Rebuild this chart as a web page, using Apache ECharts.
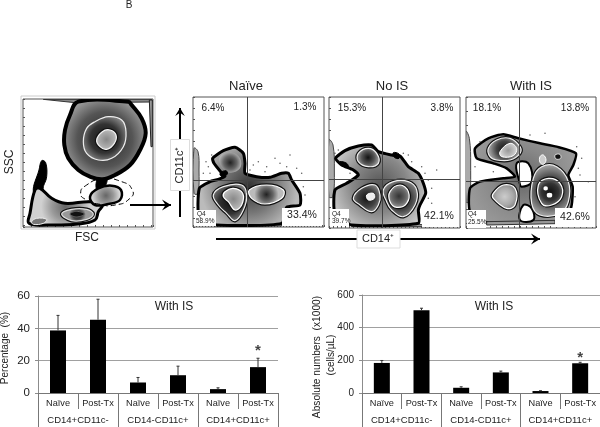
<!DOCTYPE html>
<html>
<head>
<meta charset="utf-8">
<style>
  html, body { margin: 0; padding: 0; background: #fff; }
  #main { width: 600px; height: 427px; filter: blur(0.35px); }
</style>
<script src="https://cdn.jsdelivr.net/npm/echarts@6/dist/echarts.min.js"></script>
</head>
<body>
<div id="main"></div>
<script>
// bar charts
var categories = ['Naïve', 'Post-Tx', 'Naïve', 'Post-Tx', 'Naïve', 'Post-Tx'];
var groups = ['CD14+CD11c-', 'CD14-CD11c+', 'CD14+CD11c+'];
var percentValues = [38.7, 45.3, 6.5, 11, 2.4, 16];
var percentErrTop = [48, 58, 9.6, 16.6, 3.2, 21.5];
var absoluteValues = [184, 507, 32, 126, 12, 182];
var absoluteErrTop = [199, 519, 38, 134, 14, 188];
var starAt = 5;

// flow plot contours (panel channel units)
var sscBig = [[190,35],[165,75],[150,120],[148,165],[160,205],[190,240],[225,260],[262,268],[300,255],[345,225],[375,180],[392,130],[380,85],[350,45],[340,35]];
var sscBigMid = [[240,95],[280,80],[320,90],[333,125],[325,170],[290,205],[250,210],[215,190],[205,155],[215,115]];
var sscBigCore = [[262,125],[285,120],[303,135],[298,160],[275,178],[255,170],[245,150]];
var sscMono = [[225,320],[250,295],[290,287],[318,300],[315,330],[280,342],[240,345]];
var sscNeck = [[250,262],[275,262],[268,292],[245,298]];
var sscGate = [[197,310],[215,285],[260,268],[320,275],[352,300],[345,325],[300,345],[250,342],[215,330]];
var sscLow = [[42,400],[45,370],[60,300],[75,295],[110,325],[150,340],[225,335],[262,345],[250,365],[240,390],[190,402],[100,405]];
var sscLowMid = [[140,372],[170,358],[215,358],[235,372],[215,388],[170,392]];
var sscLowCore = [[165,372],[185,364],[208,372],[185,381]];
var sscSpike = [[55,305],[72,240],[80,212],[92,218],[95,260],[85,300],[110,325],[80,312]];
var sscDebris = [[50,395],[65,385],[95,388],[85,400],[55,403]];
var sscTop = [[85,28],[410,28],[410,36],[180,38]];
var sscRight = [[403,30],[412,30],[412,170],[408,170]];

var naiveOuter = [[28,175],[60,155],[85,148],[105,138],[92,125],[72,100],[68,85],[100,62],[135,52],[160,70],[165,100],[165,130],[200,140],[240,142],[275,130],[295,130],[305,150],[330,190],[330,225],[290,232],[275,280],[80,285],[28,265]];
var naiveLobe = [[90,80],[125,68],[150,85],[150,115],[120,128],[95,110]];
var naiveLeft = [[70,195],[100,170],[155,165],[170,195],[160,240],[135,272],[110,250],[85,225]];
var naiveLeftCore = [[105,185],[130,175],[158,190],[155,225],[135,240],[115,215],[100,200]];
var naiveRight = [[178,180],[230,165],[280,180],[275,205],[225,222],[185,205]];
var naiveNotch = [[90,130],[108,122],[112,132],[96,140]];
var naiveStrip = [[12,55],[24,65],[27,120],[24,190],[12,190]];
var naiveBase = [[80,280],[275,280],[275,288],[80,288]];
var naiveDots = [[65,75],[55,110],[40,130],[190,105],[205,95],[230,110],[255,85],[270,100],[300,75],[320,115],[340,170],[345,195],[225,125],[180,120],[60,130],[290,110],[335,130],[48,95]];

var noOuter = [[32,85],[60,62],[100,48],[140,45],[160,65],[200,75],[225,78],[250,110],[280,130],[295,160],[302,190],[285,225],[280,240],[280,280],[80,285],[30,250],[30,180],[65,160],[100,135],[85,120],[50,105]];
var noTop = [[100,70],[130,55],[155,70],[160,100],[130,110],[100,95]];
var noLeft = [[85,205],[110,175],[150,165],[165,195],[160,225],[140,245],[105,225]];
var noLeftCore = [[125,195],[145,190],[148,205],[130,210]];
var noRight = [[175,180],[205,155],[250,155],[275,180],[270,225],[235,260],[200,240],[185,215]];
var noRightCore = [[195,185],[225,165],[250,185],[245,220],[215,232],[195,215]];
var noNotch = [[45,95],[65,100],[70,112],[50,106]];
var noSpot = [[205,68],[222,72],[222,85],[208,82]];
var noStrip = [[12,30],[24,45],[28,120],[24,200],[12,200]];
var noBase = [[80,282],[280,282],[320,290],[80,290]];
var noDots = [[235,70],[260,95],[290,110],[310,150],[320,175],[310,205],[250,75],[40,60],[30,70],[300,130],[75,130],[335,120],[320,220]];

var isOuter = [[45,70],[85,40],[130,28],[175,40],[240,55],[290,65],[348,85],[340,120],[325,150],[338,185],[335,240],[320,285],[240,290],[80,292],[30,260],[30,190],[60,170],[130,160],[165,155],[140,130],[100,115],[50,100]];
var isHoleUp = [[170,115],[205,115],[215,170],[185,185],[178,170]];
var isHoleLow = [[190,240],[215,250],[220,285],[180,285]];
var isTop = [[85,70],[110,45],[150,40],[180,65],[180,85],[150,105],[110,105],[90,95]];
var isTopCore = [[120,80],[150,55],[170,70],[160,92],[125,95]];
var isRight = [[220,160],[245,125],[290,125],[325,170],[325,230],[300,265],[240,270],[215,235]];
var isRightCore = [[235,180],[265,160],[300,175],[305,215],[275,240],[245,235]];
var isLow = [[100,205],[130,180],[165,190],[165,240],[140,250],[100,220]];
var isFinger = [[240,95],[250,90],[258,105],[250,118],[240,112]];
var isDotA = [[252,185],[262,185],[262,195],[252,195]];
var isDotB = [[262,205],[275,205],[275,216],[262,216]];
var isSpot = [[285,90],[300,88],[302,100],[288,102]];
var isStrip = [[18,20],[28,40],[32,120],[28,230],[18,230]];
var isBase = [[80,290],[285,286],[285,296],[80,300]];
var isDots = [[350,65],[365,100],[360,150],[385,170],[345,215],[255,25],[210,30],[60,50],[340,260],[355,130],[45,125],[100,140]];

function tone(core, mid, edge) {
    return new echarts.graphic.RadialGradient(0.5, 0.5, 0.6, [
        { offset: 0, color: core }, { offset: 0.55, color: mid }, { offset: 1, color: edge }
    ]);
}

var sscLayers = [
    { pts: sscTop, fill: '#888', stroke: '#333', w: 1, smooth: 0 },
    { pts: sscRight, fill: '#999', stroke: '#222', w: 1, smooth: 0 },
    { pts: sscSpike, fill: '#000', stroke: '#000', w: 1 },
    { pts: sscLow, fill: tone('#666', '#999', '#d0d0d0'), stroke: '#000', w: 3 },
    { pts: sscDebris, fill: '#777', stroke: '#eee', w: 1 },
    { pts: sscLowMid, fill: tone('#111', '#444', '#999'), stroke: '#ddd', w: 1.2, halo: 1 },
    { pts: sscLowCore, fill: '#111', stroke: '#666', w: 1 },
    { pts: sscNeck, fill: '#000', stroke: '#000', w: 1 },
    { pts: sscBig, fill: tone('#222', '#555', '#b5b5b5'), stroke: '#000', w: 4 },
    { pts: sscBigMid, fill: tone('#111', '#333', '#999'), stroke: '#eee', w: 1.2 },
    { pts: sscBigCore, fill: tone('#888', '#aaa', '#ccc'), stroke: '#f4f4f4', w: 1.2, halo: 1 },
    { pts: sscMono, fill: tone('#666', '#999', '#d5d5d5'), stroke: '#000', w: 2.5 },
    { pts: sscGate, fill: 'none', stroke: '#000', w: 1, dash: [5, 3], smooth: 0.6 }
];
var naiveLayers = [
    { pts: naiveStrip, fill: '#aaa', stroke: '#444', w: 1 },
    { pts: naiveBase, fill: '#999', stroke: '#333', w: 1, smooth: 0 },
    { pts: naiveOuter, fill: tone('#333', '#777', '#bbb'), stroke: '#000', w: 3, smooth: 0.2 },
    { pts: naiveLobe, fill: tone('#222', '#666', '#c0c0c0'), stroke: 'none', w: 0 },
    { pts: naiveNotch, fill: '#000', stroke: '#000', w: 1 },
    { pts: naiveLeft, fill: tone('#111', '#333', '#888'), stroke: '#eee', w: 1.2, halo: 1 },
    { pts: naiveLeftCore, fill: tone('#888', '#aaa', '#ccc'), stroke: '#fff', w: 1.2, halo: 1 },
    { pts: naiveRight, fill: tone('#222', '#666', '#bbb'), stroke: '#fff', w: 1.2, halo: 1 }
];
var noLayers = [
    { pts: noStrip, fill: '#aaa', stroke: '#444', w: 1 },
    { pts: noBase, fill: '#999', stroke: '#333', w: 1, smooth: 0 },
    { pts: noOuter, fill: tone('#555', '#888', '#c8c8c8'), stroke: '#000', w: 3, smooth: 0.2 },
    { pts: noNotch, fill: '#000', stroke: '#000', w: 1 },
    { pts: noSpot, fill: '#000', stroke: '#000', w: 1 },
    { pts: noTop, fill: tone('#111', '#555', '#aaa'), stroke: '#f0f0f0', w: 1.2, halo: 1 },
    { pts: noLeft, fill: tone('#111', '#444', '#999'), stroke: '#f0f0f0', w: 1.2, halo: 1 },
    { pts: noLeftCore, fill: '#eee', stroke: '#fff', w: 1 },
    { pts: noRight, fill: tone('#111', '#444', '#999'), stroke: '#f0f0f0', w: 1.2, halo: 1 },
    { pts: noRightCore, fill: tone('#333', '#666', '#aaa'), stroke: '#fff', w: 1.2, halo: 1 }
];
var isLayers = [
    { pts: isStrip, fill: '#aaa', stroke: '#444', w: 1 },
    { pts: isOuter, fill: tone('#666', '#888', '#999'), stroke: '#000', w: 2.5, smooth: 0.2 },
    { pts: isBase, fill: '#999', stroke: '#333', w: 1, smooth: 0 },
    { pts: isHoleUp, fill: '#fff', stroke: '#000', w: 2 },
    { pts: isHoleLow, fill: '#fff', stroke: '#000', w: 2 },
    { pts: isTop, fill: tone('#111', '#444', '#999'), stroke: '#eee', w: 1.2, halo: 1 },
    { pts: isTopCore, fill: tone('#999', '#bbb', '#ddd'), stroke: '#fff', w: 1 },
    { pts: isRight, fill: tone('#111', '#444', '#999'), stroke: '#eee', w: 1.2, halo: 1 },
    { pts: isRightCore, fill: tone('#111', '#333', '#888'), stroke: '#fff', w: 1.2, halo: 1 },
    { pts: isDotA, fill: '#fff', stroke: 'none', w: 0 },
    { pts: isDotB, fill: '#fff', stroke: 'none', w: 0 },
    { pts: isLow, fill: tone('#ccc', '#aaa', '#777'), stroke: '#fff', w: 1.2, halo: 1 },
    { pts: isFinger, fill: '#ccc', stroke: '#fff', w: 1 },
    { pts: isSpot, fill: '#111', stroke: '#ddd', w: 1 }
];

// page boxes of the flow plots; axes use the channel units of the contours
var panels = [
    { left: 23, top: 99, width: 130, height: 128, x: [24, 414], y: [27, 411], xi: 24, yi: 27, layers: sscLayers, dots: [] },
    { left: 193, top: 97, width: 131, height: 130, x: [9, 402], y: [-99, 291], xi: 9, yi: 33, layers: naiveLayers, dots: naiveDots, qx: 172, qy: 150 },
    { left: 329, top: 97, width: 131, height: 131, x: [12, 405], y: [-99, 294], xi: 12, yi: 33, layers: noLayers, dots: noDots, qx: 172, qy: 148 },
    { left: 466, top: 97, width: 130, height: 131, x: [18, 408], y: [-84, 309], xi: 18, yi: 42, layers: isLayers, dots: isDots, qx: 178, qy: 168 }
];

var grids = [], xAxes = [], yAxes = [], series = [];

panels.forEach(function (p, i) {
    grids.push({ left: p.left, top: p.top, width: p.width, height: p.height, show: true, borderColor: '#555', borderWidth: 1, backgroundColor: '#fff' });
    xAxes.push({
        type: 'value', gridIndex: i, min: p.x[0], max: p.x[1], interval: p.xi,
        axisLine: { show: false, onZero: false }, splitLine: { show: false }, axisLabel: { show: false },
        axisTick: { show: true, inside: true, length: 2, lineStyle: { color: '#555' } }
    });
    yAxes.push({
        type: 'value', gridIndex: i, inverse: true, min: p.y[0], max: p.y[1], interval: p.yi,
        axisLine: { show: false, onZero: false }, splitLine: { show: false }, axisLabel: { show: false },
        axisTick: { show: true, inside: true, length: 2, lineStyle: { color: '#555' } }
    });
    var lines = [];
    if (p.qx) lines = [{ xAxis: p.qx }, { yAxis: p.qy }];
    series.push({
        type: 'custom', xAxisIndex: i, yAxisIndex: i, clip: true, silent: true,
        data: p.layers.map(function (l, k) { return [k]; }),
        encode: { x: -1, y: -1 },
        renderItem: function (params, api) {
            var l = p.layers[params.dataIndex];
            var points = l.pts.map(function (pt) { return api.coord(pt); });
            var smooth = l.smooth === undefined ? 0.4 : l.smooth;
            var children = [];
            if (l.halo) {
                children.push({ type: 'polygon', shape: { points: points, smooth: smooth }, style: { fill: 'none', stroke: '#111', lineWidth: 3.5 } });
            }
            children.push({
                type: 'polygon',
                shape: { points: points, smooth: smooth },
                style: { fill: l.fill, stroke: l.stroke, lineWidth: l.w, lineDash: l.dash }
            });
            return { type: 'group', children: children };
        },
        markLine: { silent: true, symbol: 'none', animation: false, label: { show: false }, lineStyle: { color: '#444', width: 1, type: 'solid' }, data: lines }
    });
    series.push({
        type: 'scatter', xAxisIndex: i, yAxisIndex: i, silent: true, symbolSize: 1.5,
        itemStyle: { color: '#333' }, data: p.dots
    });
});

// two bar charts
function addBars(box, maxV, step, values, errTop, starOffset) {
    var g = grids.length;
    grids.push({ left: box.left, top: box.top, width: box.width, height: box.height });
    xAxes.push({
        type: 'category', gridIndex: g, data: categories,
        axisLine: { lineStyle: { color: '#777' } },
        axisTick: { show: true, interval: 0, length: 16, lineStyle: { color: '#777' } },
        axisLabel: { interval: 0, margin: 6, fontSize: 9.2, color: '#222', fontFamily: 'Liberation Sans' }
    });
    xAxes.push({
        type: 'category', gridIndex: g, position: 'bottom', data: groups,
        axisLine: { show: false },
        axisTick: { show: true, interval: 0, length: 34, lineStyle: { color: '#777' } },
        axisLabel: { interval: 0, margin: 22, fontSize: 9.5, color: '#222', fontFamily: 'Liberation Sans' }
    });
    yAxes.push({
        type: 'value', gridIndex: g, min: 0, max: maxV, interval: step,
        axisLine: { show: true, lineStyle: { color: '#8c8c8c' } },
        axisTick: { show: true, length: 3, lineStyle: { color: '#8c8c8c' } },
        splitLine: { lineStyle: { color: '#a0a0a0', width: 1 } },
        axisLabel: { margin: box.labelGap, fontSize: box.labelSize, color: '#222', fontFamily: 'Liberation Sans' }
    });
    var xi = xAxes.length - 2, yi = yAxes.length - 1;
    series.push({
        type: 'bar', xAxisIndex: xi, yAxisIndex: yi, data: values, barWidth: 16,
        itemStyle: { color: '#000' }, silent: true
    });
    series.push({
        type: 'custom', xAxisIndex: xi, yAxisIndex: yi, silent: true, z: 3,
        data: values.map(function (v, i) { return [i, v, errTop[i]]; }),
        encode: { x: 0, y: [1, 2] },
        renderItem: function (params, api) {
            var a = api.coord([api.value(0), api.value(1)]);
            var b = api.coord([api.value(0), api.value(2)]);
            var st = { stroke: '#333', lineWidth: 1, fill: 'none' };
            return {
                type: 'group', children: [
                    { type: 'line', shape: { x1: a[0], y1: a[1], x2: b[0], y2: b[1] }, style: st },
                    { type: 'line', shape: { x1: b[0] - 1.5, y1: b[1], x2: b[0] + 1.5, y2: b[1] }, style: st }
                ]
            };
        }
    });
    series.push({
        type: 'scatter', xAxisIndex: xi, yAxisIndex: yi, silent: true, symbolSize: 0, z: 4,
        data: [[starAt, errTop[starAt]]],
        label: { show: true, position: 'top', distance: starOffset, formatter: '*', fontSize: 15, fontWeight: 'bold', color: '#111', fontFamily: 'Liberation Sans' }
    });
}

addBars({ left: 38, top: 296, width: 240, height: 97, labelGap: 8, labelSize: 11.5 }, 60, 20, percentValues, percentErrTop, 0);
addBars({ left: 362, top: 295, width: 238, height: 98, labelGap: 8, labelSize: 10 }, 600, 200, absoluteValues, absoluteErrTop, -3);

var font = 'Liberation Sans';
function label(text, x, y, size, rotation, extra) {
    var el = {
        type: 'text', x: x, y: y, rotation: rotation || 0, z: 100,
        style: { text: text, fontSize: size, fontFamily: font, fill: '#222', align: 'center', verticalAlign: 'middle' }
    };
    if (extra) el.style.align = extra;
    return el;
}
function box(x, y, w, h, stroke) {
    return { type: 'rect', z: stroke ? 85 : 90, shape: { x: x, y: y, width: w, height: h }, style: { fill: '#fff', stroke: stroke || 'none', lineWidth: 1 } };
}
function arrow(x1, y1, x2, y2, head) {
    var right = x2 > x1;
    var pts = right ? [[x2, y2], [x2 - head, y2 - head * 0.6], [x2 - head * 0.6, y2], [x2 - head, y2 + head * 0.6]]
        : [[x2, y2], [x2 - head * 0.6, y2 + head], [x2, y2 + head * 0.6], [x2 + head * 0.6, y2 + head]];
    return [
        { type: 'line', z: 80, shape: { x1: x1, y1: y1, x2: x2, y2: y2 }, style: { stroke: '#000', lineWidth: 2 } },
        { type: 'polygon', z: 80, shape: { points: pts }, style: { fill: '#000' } }
    ];
}

var graphics = [
    { type: 'rect', z: 1, shape: { x: 21, y: 96, width: 134, height: 133 }, style: { fill: 'none', stroke: '#ccc', lineWidth: 1 } },
    label('B', 129, 5, 10),
    label('Naïve', 246, 86, 13), label('No IS', 392, 86, 13), label('With IS', 531, 86, 13),
    label('SSC', 10, 162, 12, Math.PI / 2), label('FSC', 87, 238, 12),
    box(196, 210, 20, 16), box(282, 208, 40, 18), box(422, 208, 36, 19), box(555, 208, 40, 19),
    box(330, 209, 19, 17), box(467, 210, 19, 18),
    label('6.4%', 213, 108, 10), label('1.3%', 305, 107, 10), label('33.4%', 302, 215, 10.5),
    label('15.3%', 352, 108, 10), label('3.8%', 442, 108, 10), label('42.1%', 439, 216, 10.5),
    label('18.1%', 487, 108, 10), label('13.8%', 575, 108, 10), label('42.6%', 575, 217, 10.5),
    label('Q4', 197, 214, 6.5, 0, 'left'), label('58.9%', 196, 221, 6.5, 0, 'left'),
    label('Q4', 332, 214, 6.5, 0, 'left'), label('39.7%', 332, 221, 6.5, 0, 'left'),
    label('Q4', 468, 214, 6.5, 0, 'left'), label('25.5%', 468, 222, 6.5, 0, 'left'),
    box(170.5, 139.5, 19, 51, '#ddd'), label('CD11c⁺', 180, 165, 11, Math.PI / 2),
    box(357, 230, 43, 18, '#ddd'), label('CD14⁺', 378, 239, 11),
    label('With IS', 174, 307, 12), label('With IS', 494, 307, 12),
    label('Percentage  (%)', 5, 348, 10, Math.PI / 2),
    label('Absolute numbers  (x1000)', 317, 357, 10.2, Math.PI / 2),
    label('(cells/µL)', 331, 355, 10, Math.PI / 2)
].concat(arrow(130, 205, 171, 205, 9), arrow(180, 217, 180, 108, 8), arrow(216, 239, 540, 239, 9));

var myChart = echarts.init(document.getElementById('main'), null, { renderer: 'canvas' });
myChart.setOption({
    animation: false,
    backgroundColor: '#fff',
    grid: grids,
    xAxis: xAxes,
    yAxis: yAxes,
    series: series,
    graphic: { elements: graphics }
});
</script>
</body>
</html>
